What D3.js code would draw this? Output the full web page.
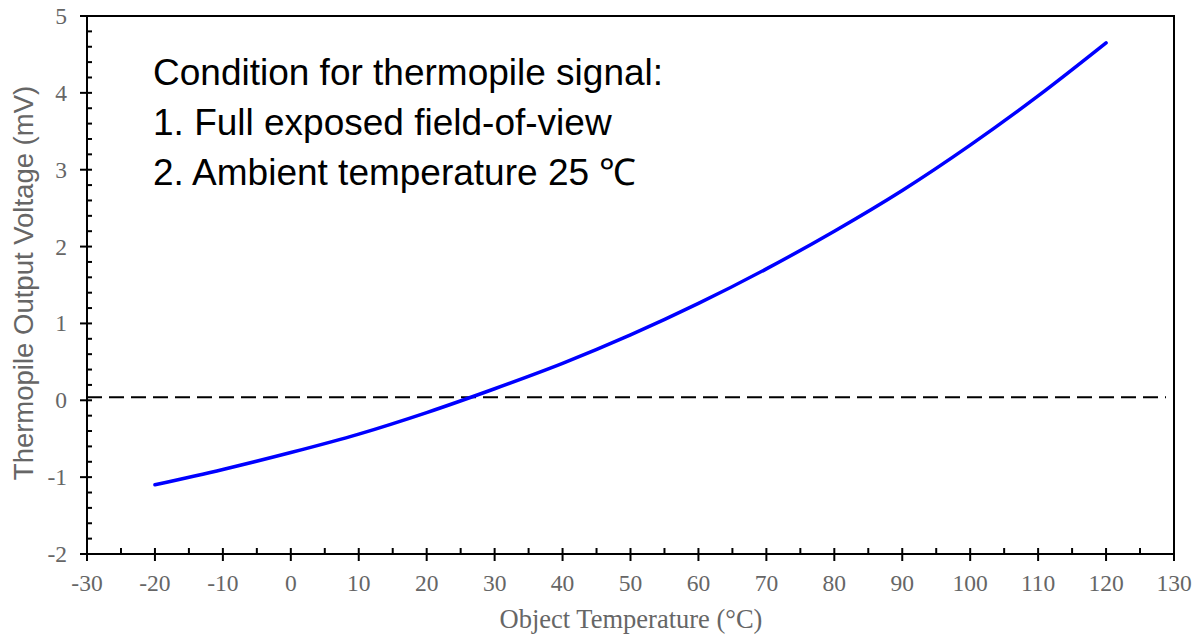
<!DOCTYPE html>
<html>
<head>
<meta charset="utf-8">
<script src="https://d3js.org/d3.v7.min.js"></script>
<style>
  body { margin: 0; background: #fff; }
  .tick-label { font-family: "Liberation Serif", "Times New Roman", serif; font-size: 23.5px; fill: #666; }
</style>
</head>
<body>
<script>
// data
const temps = [-20, -10, 0, 10, 20, 30, 40, 50, 60, 70, 80, 90, 100, 110, 120];
const volts = [-1.10, -0.90, -0.68, -0.44, -0.16, 0.15, 0.48, 0.85, 1.26, 1.71, 2.20, 2.73, 3.32, 3.96, 4.65];
const zeroLine = 0.04;
const xTicks = d3.range(-30, 131, 10);
const yTicks = d3.range(-2, 6, 1);
const notes = ["Condition for thermopile signal:", "1. Full exposed field-of-view", "2. Ambient temperature 25 \u2103"];

const W = 1203, H = 635;
const m = {left: 87, right: 1174, top: 16, bottom: 554};

const svg = d3.select('body').append('svg')
    .attr('width', W)
    .attr('height', H);

const x = d3.scaleLinear().domain([-30, 130]).range([m.left, m.right]);
const y = d3.scaleLinear().domain([-2, 5]).range([m.bottom, m.top]);

// frame top + right
svg.append('path')
    .attr('d', `M${m.left},${m.top}H${m.right}V${m.bottom}`)
    .attr('fill', 'none').attr('stroke', '#000').attr('stroke-width', 2);

// x axis: minor ticks inside, majors cross
const xMinor = d3.range(-25, 130, 10);
svg.append('g').selectAll('line').data(xMinor).enter().append('line')
    .attr('x1', d => x(d)).attr('x2', d => x(d))
    .attr('y1', m.bottom).attr('y2', m.bottom - 6)
    .attr('stroke', '#000').attr('stroke-width', 2);
svg.append('g').selectAll('line').data(xTicks).enter().append('line')
    .attr('x1', d => x(d)).attr('x2', d => x(d))
    .attr('y1', m.bottom - 6).attr('y2', m.bottom + 7)
    .attr('stroke', '#000').attr('stroke-width', 2);
svg.append('g').selectAll('text').data(xTicks).enter().append('text')
    .attr('class', 'tick-label')
    .attr('x', d => x(d)).attr('y', 591)
    .attr('text-anchor', 'middle')
    .text(d => d);

// y axis
const yMinor = d3.range(-2, 5.01, 0.2).filter(v => Math.abs(v - Math.round(v)) > 0.01);
svg.append('g').selectAll('line').data(yMinor).enter().append('line')
    .attr('x1', m.left).attr('x2', m.left + 5)
    .attr('y1', d => y(d)).attr('y2', d => y(d))
    .attr('stroke', '#000').attr('stroke-width', 2);
svg.append('g').selectAll('line').data(yTicks).enter().append('line')
    .attr('x1', m.left - 7).attr('x2', m.left + 5)
    .attr('y1', d => y(d)).attr('y2', d => y(d))
    .attr('stroke', '#000').attr('stroke-width', 2);
svg.append('g').selectAll('text').data(yTicks).enter().append('text')
    .attr('class', 'tick-label')
    .attr('x', 67).attr('y', d => y(d) + 8)
    .attr('text-anchor', 'end')
    .text(d => d);

// axis lines
svg.append('path')
    .attr('d', `M${m.left},${m.top}V${m.bottom}H${m.right}`)
    .attr('fill', 'none').attr('stroke', '#000').attr('stroke-width', 2);

// dashed reference
svg.append('line')
    .attr('x1', x(-30)).attr('x2', 1166)
    .attr('y1', y(zeroLine)).attr('y2', y(zeroLine))
    .attr('stroke', '#000').attr('stroke-width', 2)
    .attr('stroke-dasharray', '15,7');

// curve
const line = d3.line()
    .x((d, i) => x(temps[i]))
    .y(d => y(d))
    .curve(d3.curveCatmullRom);
svg.append('path')
    .datum(volts)
    .attr('d', line)
    .attr('fill', 'none')
    .attr('stroke', '#0000ff')
    .attr('stroke-width', 3.5)
    .attr('stroke-linecap', 'round');

// annotation
svg.append('g').selectAll('text').data(notes).enter().append('text')
    .attr('x', 153).attr('y', (d, i) => 85 + i * 50)
    .attr('font-family', '"Liberation Sans", Arial, sans-serif')
    .attr('font-size', 37)
    .attr('fill', '#000')
    .text(d => d);

// axis titles
svg.append('text')
    .attr('x', 631).attr('y', 628)
    .attr('text-anchor', 'middle')
    .attr('font-family', '"Liberation Serif", "Times New Roman", serif')
    .attr('font-size', 26.5)
    .attr('fill', '#666')
    .text('Object Temperature (\u00b0C)');

svg.append('text')
    .attr('transform', 'translate(33,283) rotate(-90)')
    .attr('text-anchor', 'middle')
    .attr('font-family', '"Liberation Sans", Arial, sans-serif')
    .attr('font-size', 27.5)
    .attr('fill', '#666')
    .text('Thermopile Output Voltage (mV)');
</script>
</body>
</html>
